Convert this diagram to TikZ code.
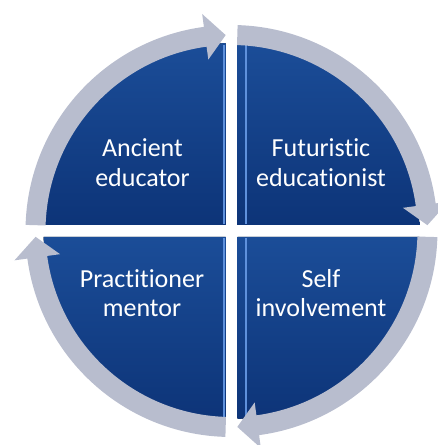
\documentclass[tikz,border=0pt]{standalone}
\usepackage{fontspec}
\setmainfont{Carlito}[Ligatures={NoCommon,NoRequired,NoContextual}]
\usetikzlibrary{calc}
\definecolor{ring}{RGB}{184,189,206}
\definecolor{quadtop}{RGB}{27,77,152}
\definecolor{quadbot}{RGB}{13,52,120}
\definecolor{stripe}{RGB}{95,145,220}
\tikzset{
 quad/.style={top color=quadtop, bottom color=quadbot, draw=none},
 band/.style={fill=ring, draw=none},
 lbl/.style={text=white, font=\fontsize{26}{30}\selectfont, anchor=base, inner sep=0pt},
 hl/.style={draw=stripe, line width=2pt}
}
\newcommand\ringarrow[2]{%
 \pgfmathsetmacro\hb{#2+6}%
 \fill[band] ($(C)+(#1:206)$) arc[start angle=#1,end angle=\hb,radius=206]
   -- ($(C)+(\hb:219)$) -- ($(C)+(#2:196)$) -- ($(C)+(\hb:173)$)
   -- ($(C)+(\hb:186)$) arc[start angle=\hb,end angle=#1,radius=186] -- cycle;}
\begin{document}
\begin{tikzpicture}[x=1pt,y=1pt]
\useasboundingbox (0,0) rectangle (438,445);
\coordinate (C) at (231.5,214);
% quadrants
\fill[quad] ($(C)+(-6,6)$) -- ($(C)+(91.83:188)$) arc[start angle=91.83,end angle=178.17,radius=188] -- cycle;
\fill[quad] ($(C)+(6,6)$) -- ($(C)+(1.83:188)$) arc[start angle=1.83,end angle=88.17,radius=188] -- cycle;
\fill[quad] ($(C)+(6,-6)$) -- ($(C)+(-88.17:188)$) arc[start angle=-88.17,end angle=-1.83,radius=188] -- cycle;
\fill[quad] ($(C)+(-6,-6)$) -- ($(C)+(181.83:188)$) arc[start angle=181.83,end angle=268.17,radius=188] -- cycle;
% highlights
\draw[hl] ($(C)+(-8,7)$) -- ($(C)+(-8,186)$);
\draw[hl] ($(C)+(-8,-7)$) -- ($(C)+(-8,-186)$);
\draw[hl] ($(C)+(14,7)$) -- ($(C)+(14,186)$);
\draw[hl] ($(C)+(14,-7)$) -- ($(C)+(14,-186)$);
% ring arrows
\ringarrow{178.3}{91.7}
\ringarrow{88.3}{1.7}
\ringarrow{-1.7}{-88.3}
\ringarrow{-91.7}{-178.3}
% labels
\node[lbl] (a1) at (142.5,288) {Ancient};
\node[lbl] (a2) at (142.5,258) {educator};
\node[lbl] (b1) at (321,288) {Futuristic};
\node[lbl] (b2) at (321,258) {educationist};
\node[lbl] (c1) at (142,157) {Practitioner};
\node[lbl] (c2) at (142,128) {mentor};
\node[lbl] (d1) at (321,157) {Self};
\node[lbl] (d2) at (321,128) {involvement};
\end{tikzpicture}
\end{document}
